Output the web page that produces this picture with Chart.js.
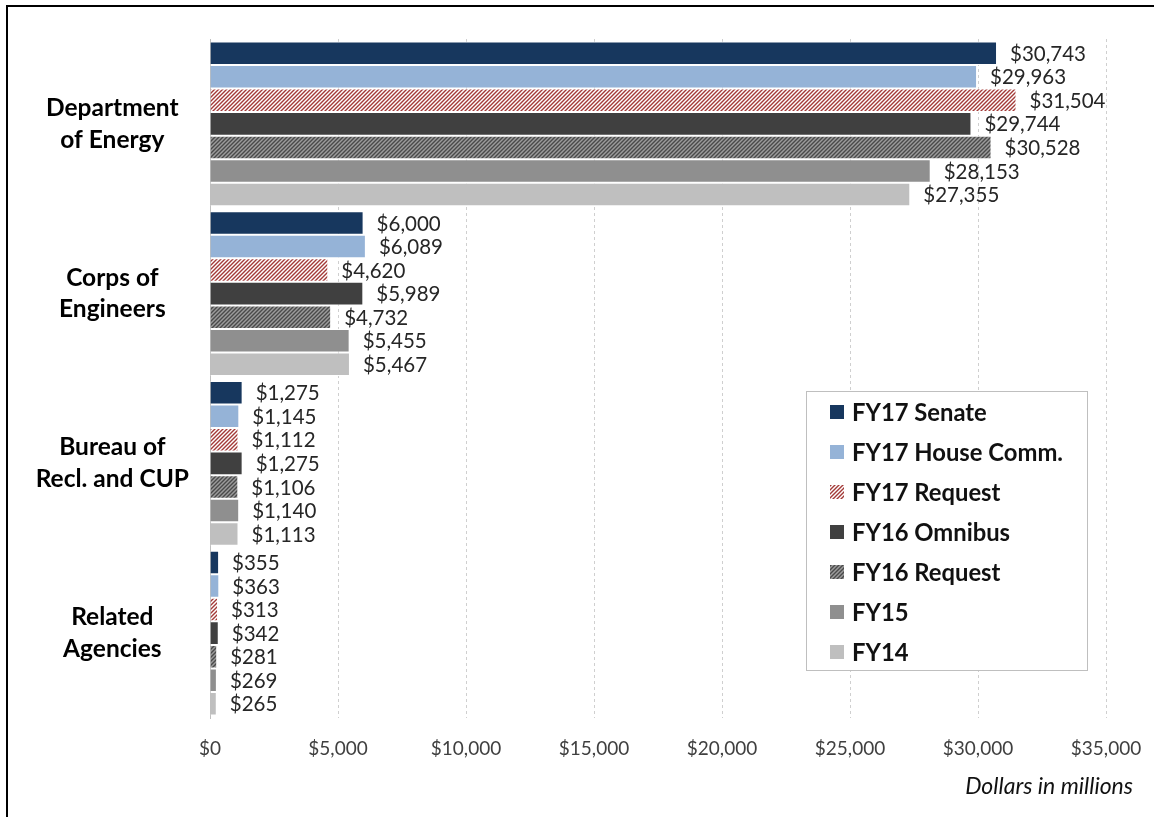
<!DOCTYPE html>
<html>
<head>
<meta charset="utf-8">
<script src="https://cdn.jsdelivr.net/npm/chart.js@4/dist/chart.umd.min.js"></script>
<style>
  html, body { margin: 0; padding: 0; background: #fff; overflow: hidden; width: 1154px; height: 817px; }
  #frame { position: absolute; left: 6px; top: 5px; width: 1300px; height: 1000px; border: 2px solid #000; }
  #grafico { position: absolute; left: 0; top: 0; }
</style>
</head>
<body>
<div id="frame"></div>
<canvas id="grafico" width="1154" height="817"></canvas>
<script>
// categories (two-line labels like the original)
const categorias = [
  ["Department", "of Energy"],
  ["Corps of", "Engineers"],
  ["Bureau of", "Recl. and CUP"],
  ["Related", "Agencies"]
]

const series = ["FY17 Senate", "FY17 House Comm.", "FY17 Request", "FY16 Omnibus", "FY16 Request", "FY15", "FY14"]

// dollars in millions, one value per category
const fy17Senate = [30743, 6000, 1275, 355]
const fy17House = [29963, 6089, 1145, 363]
const fy17Request = [31504, 4620, 1112, 313]
const fy16Omnibus = [29744, 5989, 1275, 342]
const fy16Request = [30528, 4732, 1106, 281]
const fy15 = [28153, 5455, 1140, 269]
const fy14 = [27355, 5467, 1113, 265]

const ticksX = [0, 5000, 10000, 15000, 20000, 25000, 30000, 35000]

const FONT = "Lato, 'Open Sans', sans-serif"

const rayado = (fondo, linea) => {
  const c = document.createElement("canvas")
  c.width = 4
  c.height = 4
  const x = c.getContext("2d")
  x.fillStyle = fondo
  x.fillRect(0, 0, 4, 4)
  x.strokeStyle = linea
  x.lineWidth = 1.4
  x.beginPath()
  x.moveTo(0, 4); x.lineTo(4, 0)
  x.moveTo(-1, 1); x.lineTo(1, -1)
  x.moveTo(3, 5); x.lineTo(5, 3)
  x.stroke()
  return x.createPattern(c, "repeat")
}

const colores = [
  "#17375E",
  "#95B3D7",
  rayado("#ffffff", "#A33A38"),
  "#404040",
  rayado("#9C9C9C", "#4A4A4A"),
  "#8F8F8F",
  "#BFBFBF"
]
const valores = [fy17Senate, fy17House, fy17Request, fy16Omnibus, fy16Request, fy15, fy14]

const dinero = (v) => "$" + Number(v).toLocaleString("en-US")

const etiquetas = {
  id: "etiquetas",
  afterDatasetsDraw(chart) {
    const ctx = chart.ctx
    ctx.save()
    ctx.font = "20.5px " + FONT
    ctx.fillStyle = "#262626"
    ctx.textAlign = "left"
    ctx.textBaseline = "middle"
    chart.data.datasets.forEach((ds, i) => {
      chart.getDatasetMeta(i).data.forEach((bar, j) => {
        ctx.fillText(dinero(ds.data[j]), bar.x + 13, bar.y + 1)
      })
    })
    ctx.restore()
  }
}

const leyenda = {
  id: "leyenda",
  afterDraw(chart) {
    const ctx = chart.ctx
    ctx.save()
    ctx.fillStyle = "#fff"
    ctx.fillRect(806, 391, 281, 279)
    ctx.strokeStyle = "#BFBFBF"
    ctx.lineWidth = 1
    ctx.strokeRect(806.5, 391.5, 281, 279)
    ctx.font = "bold 23.8px " + FONT
    ctx.textBaseline = "middle"
    chart.data.datasets.forEach((ds, i) => {
      const y = 412 + i * 40
      ctx.fillStyle = ds.backgroundColor
      ctx.fillRect(830, y - 7, 14, 14)
      ctx.fillStyle = "#111"
      ctx.fillText(ds.label, 852, y + 1)
    })
    ctx.font = "italic 23px " + FONT
    ctx.fillStyle = "#111"
    ctx.textAlign = "right"
    ctx.fillText("Dollars in millions", 1133, 787)
    ctx.restore()
  }
}

const datasets = series.map((s, i) => ({
  label: s,
  data: valores[i],
  backgroundColor: colores[i],
  borderColor: "#ffffff",
  borderWidth: 1
}))

const config = {
  type: "bar",
  data: { labels: categorias, datasets: datasets },
  options: {
    indexAxis: "y",
    responsive: false,
    animation: false,
    events: [],
    layout: { padding: { left: 10, right: 48, top: 39, bottom: 0 } },
    datasets: { bar: { categoryPercentage: 0.97, barPercentage: 1 } },
    plugins: { legend: { display: false }, tooltip: { enabled: false } },
    scales: {
      x: {
        min: 0,
        max: 35000,
        afterBuildTicks: (s) => { s.ticks = ticksX.map(v => ({ value: v })) },
        afterFit: (s) => { s.height = 99; s.paddingLeft = 0; s.paddingRight = 0 },
        ticks: {
          callback: (v) => dinero(v),
          font: { family: FONT, size: 19 },
          color: "#404040",
          padding: 19,
          maxRotation: 0
        },
        grid: { color: "#CFCFCF", drawTicks: false, lineWidth: 1 },
        border: { display: false, dash: [3, 3] }
      },
      y: {
        afterFit: (s) => { s.width = 200; s.paddingTop = 0; s.paddingBottom = 0 },
        ticks: {
          font: { family: FONT, size: 24.5, weight: "bold", lineHeight: 1.3 },
          color: "#000",
          crossAlign: "center",
          padding: 13
        },
        grid: { display: false },
        border: { display: true, color: "#BFBFBF", width: 1 }
      }
    }
  },
  plugins: [etiquetas, leyenda]
}

const myChart = new Chart(document.getElementById("grafico"), config)
</script>
</body>
</html>
